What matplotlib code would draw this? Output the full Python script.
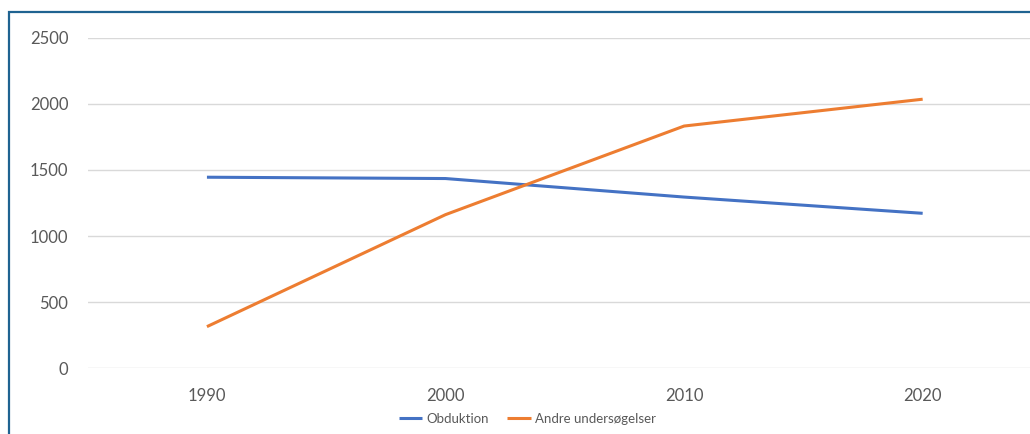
import matplotlib.pyplot as plt
from matplotlib.patches import Rectangle

years = ["1990", "2000", "2010", "2020"]
obduktion = [1445, 1435, 1295, 1172]
andre = [315, 1162, 1832, 2035]
yticks = [0, 500, 1000, 1500, 2000, 2500]

plt.rcParams["font.family"] = ["Lato", "DejaVu Sans"]

fig = plt.figure(figsize=(10.30, 4.34), dpi=100)
ax = fig.add_axes([0.0851, 0.1514, 0.9265, 0.7617])

x = range(len(years))
ax.plot(x, obduktion, color="#4472c4", lw=2.2, label="Obduktion", solid_capstyle="butt")
ax.plot(x, andre, color="#ed7d31", lw=2.2, label="Andre undersøgelser", solid_capstyle="butt")

ax.set_xlim(-0.5, len(years) - 0.5)
ax.set_ylim(0, 2500)
ax.set_xticks(list(x))
ax.set_xticklabels(years)
ax.set_yticks(yticks)
ax.set_yticklabels([str(v) for v in yticks])
ax.grid(axis="y", color="#d9d9d9", lw=1)
ax.set_axisbelow(True)
for s in ax.spines.values():
    s.set_visible(False)
ax.tick_params(axis="both", length=0, colors="#595959", labelsize=12)
ax.tick_params(axis="y", pad=14)
ax.tick_params(axis="x", pad=14)

fig.legend(loc="center", bbox_to_anchor=(0.512, 0.035), ncol=2, frameon=False,
           fontsize=9.5, handlelength=1.8, handletextpad=0.3, columnspacing=1.4,
           labelcolor="#595959")

# blue frame around the chart
fig.patches.append(Rectangle((8.5 / 1030, -0.1), 1.2, 1 - 11.5 / 434 + 0.1,
                             transform=fig.transFigure, fill=False,
                             edgecolor="#1f6391", lw=1.6))

fig.savefig("out.png", dpi=100)
